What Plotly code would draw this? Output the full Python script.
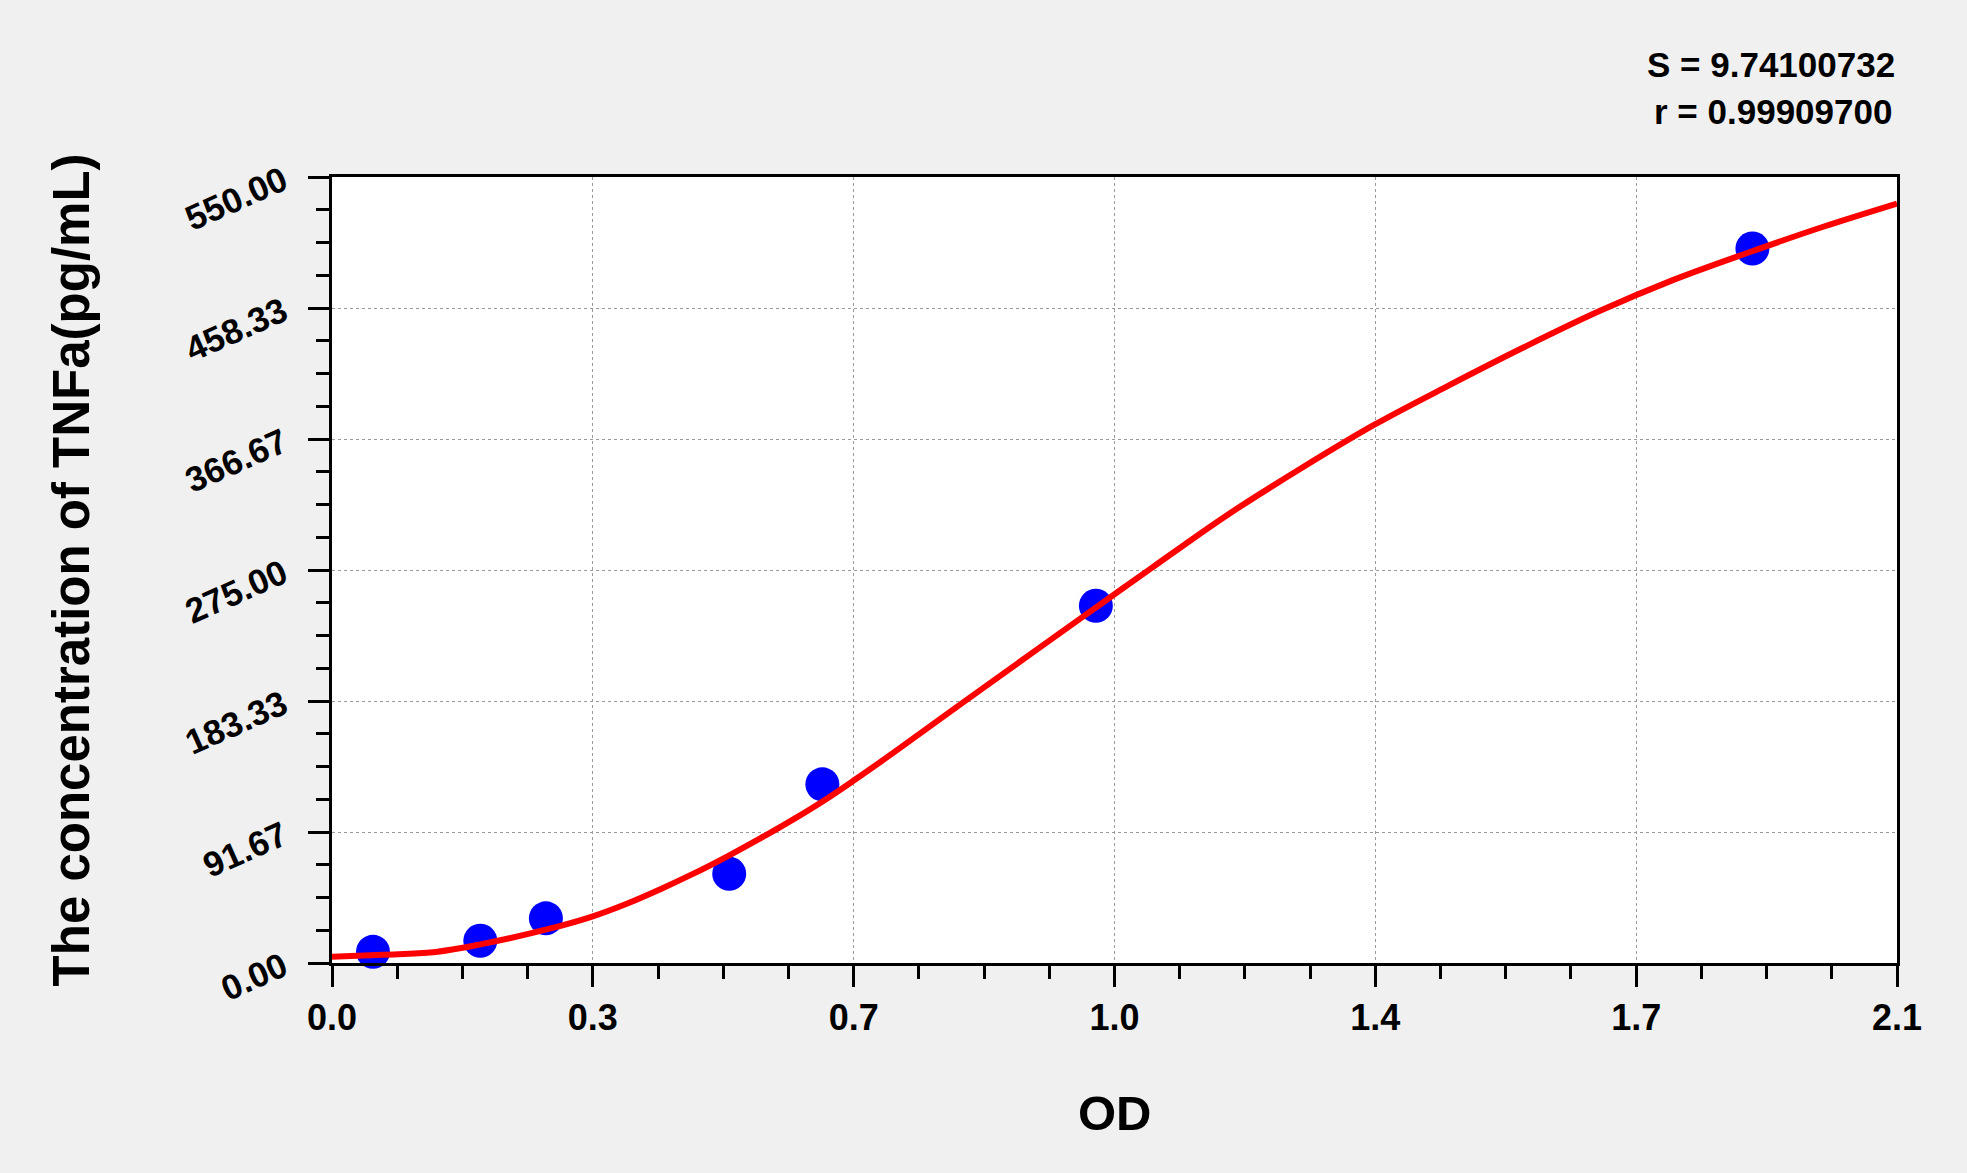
import plotly.graph_objects as go

# standard points (OD vs concentration)
od_points = [0.055, 0.199, 0.287, 0.533, 0.658, 1.025, 1.906]
conc_points = [7.8125, 15.625, 31.25, 62.5, 125, 250, 500]

# fitted curve
curve_od = [0.000, 0.068, 0.136, 0.199, 0.288, 0.349, 0.398, 0.440, 0.485, 0.530,
            0.574, 0.619, 0.664, 0.701, 0.753, 0.838, 0.941, 1.004, 1.050, 1.100,
            1.200, 1.300, 1.400, 1.500, 1.600, 1.700, 1.800, 1.900, 2.000, 2.100]
curve_conc = [4.4, 5.8, 7.5, 13.0, 23.5, 32.5, 42.0, 51.5, 62.5, 74.5,
              87.0, 100.5, 115.0, 128.0, 147.0, 179.0, 217.5, 241.0, 258.0, 276.5,
              313.0, 346.0, 377.0, 404.5, 431.0, 456.0, 478.0, 497.0, 515.0, 531.4]

# axis ticks
x_tickvals = [0.0, 0.35, 0.7, 1.05, 1.4, 1.75, 2.1]
x_ticktext = ["0.0", "0.3", "0.7", "1.0", "1.4", "1.7", "2.1"]
y_tickvals = [0, 550 / 6, 1100 / 6, 275, 2200 / 6, 2750 / 6, 550]
y_ticktext = ["0.00", "91.67", "183.33", "275.00", "366.67", "458.33", "550.00"]

FONT = "Liberation Sans, Arial, sans-serif"

fig = go.Figure()

fig.add_trace(go.Scatter(
    x=od_points, y=conc_points,
    mode="markers",
    marker=dict(color="#0000ff", size=34, line=dict(width=0)),
    cliponaxis=False,
    showlegend=False,
))

fig.add_trace(go.Scatter(
    x=curve_od, y=curve_conc,
    mode="lines",
    line=dict(color="#ff0000", width=6, shape="spline", smoothing=1.0),
    showlegend=False,
))

axis_common = dict(
    showline=True, linecolor="black", linewidth=3, mirror=True,
    ticks="outside", ticklen=21, tickwidth=3, tickcolor="black",
    showgrid=True, gridcolor="#9a9a9a", gridwidth=1, griddash="3px,3px",
    zeroline=False,
    tickmode="array",
)

fig.update_xaxes(
    range=[0, 2.1],
    tickvals=x_tickvals, ticktext=x_ticktext,
    tickfont=dict(family=FONT, size=36, color="black", weight="bold"),
    ticklabelstandoff=0,
    minor=dict(tickmode="linear", tick0=0, dtick=0.0875, ticks="outside",
               ticklen=13, tickwidth=3, tickcolor="black", showgrid=False),
    **axis_common,
)
fig.update_yaxes(
    range=[0, 550],
    tickvals=y_tickvals, ticktext=y_ticktext,
    tickfont=dict(family=FONT, size=35, color="black", weight="bold"),
    tickangle=-24,
    ticklabelstandoff=18,
    minor=dict(tickmode="linear", tick0=0, dtick=550 / 24, ticks="outside",
               ticklen=13, tickwidth=3, tickcolor="black", showgrid=False),
    **axis_common,
)

fig.add_annotation(
    text="S = 9.74100732", xref="paper", yref="paper", x=1.0, y=1.1425,
    xanchor="right", yanchor="middle", showarrow=False,
    font=dict(family=FONT, size=35, color="black", weight="bold"),
)
fig.add_annotation(
    text="r = 0.99909700", xref="paper", yref="paper", x=0.998, y=1.0827,
    xanchor="right", yanchor="middle", showarrow=False,
    font=dict(family=FONT, size=35, color="black", weight="bold"),
)
fig.add_annotation(
    text="OD", xref="paper", yref="paper", x=0.5, y=-0.1908,
    xanchor="center", yanchor="middle", showarrow=False,
    font=dict(family=FONT, size=49, color="black", weight="bold"),
)
fig.add_annotation(
    text="The concentration of TNFa(pg/mL)", xref="paper", yref="paper",
    x=-0.1665, y=0.5, textangle=-90,
    xanchor="center", yanchor="middle", showarrow=False,
    font=dict(family=FONT, size=51, color="black", weight="bold"),
)

fig.update_layout(
    width=1967, height=1173,
    margin=dict(l=332, r=70, t=177, b=210, autoexpand=False),
    paper_bgcolor="#f0f0f0",
    plot_bgcolor="white",
    showlegend=False,
)

fig.write_html("out.html", config={"displayModeBar": False},
               post_script="document.body.style.margin='0';")
